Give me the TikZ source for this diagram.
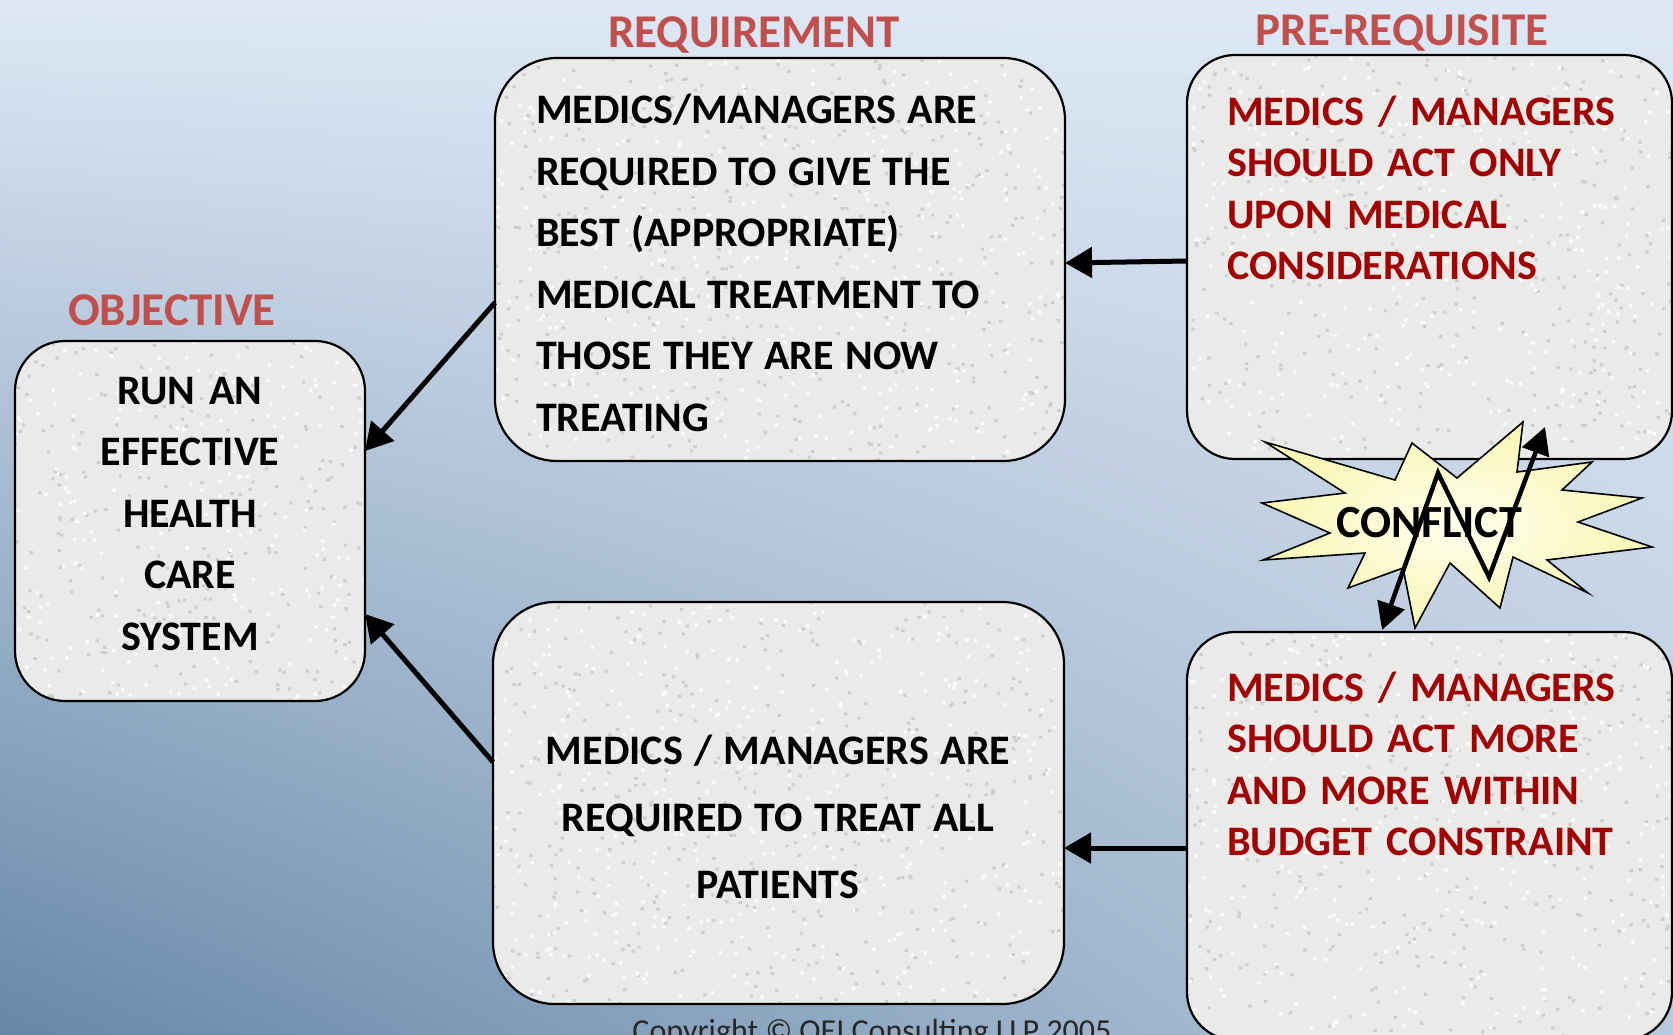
\documentclass[tikz,border=0pt]{standalone}
\usepackage{fontspec}
\setmainfont{Carlito}
\usetikzlibrary{arrows.meta}

\definecolor{titlered}{RGB}{192,80,77}
\definecolor{deepred}{RGB}{160,0,0}
\definecolor{boxfill}{RGB}{234,234,232}
\definecolor{speckdark}{RGB}{206,206,204}
\definecolor{specklight}{RGB}{250,250,249}
\definecolor{starin}{RGB}{255,255,238}
\definecolor{starout}{RGB}{250,246,180}

% Backdrop: bilinear blend, pale at the top, steel blue at the lower left,
% lighter towards the lower right.
\pgfdeclarefunctionalshading{backdrop}{\pgfpoint{0bp}{0bp}}{\pgfpoint{100bp}{100bp}}{}{
  25 sub 50 div 1 exch sub exch 25 sub 50 div exch
  1 index 0.32 mul -0.47 add 1 index mul 0.87 add
  2 index 0.26 mul -0.38 add 2 index mul 0.91 add
  3 index 0.20 mul -0.30 add 3 index mul 0.96 add
  5 -2 roll pop pop
}

\begin{document}
\pgfmathsetseed{4711}
\begin{tikzpicture}[x=1pt,y=-1pt,
  box/.style={draw=black, line width=2.2pt, fill=boxfill, inner sep=0pt, outer sep=0pt},
  % speckled stone texture: #1 batches of flecks spread over +-#2 by +-#3
  granite/.style n args={3}{path picture={
    \begin{scope}[shift={(path picture bounding box.center)}, sharp corners]
      \foreach \b in {1,...,#1}{
        \fill[speckdark, sharp corners] foreach \k in {1,...,30} {(rand*#2,rand*#3) rectangle ++(3.4,3)};
        \fill[specklight, sharp corners] foreach \k in {1,...,30} {(rand*#2,rand*#3) rectangle ++(3.6,3.4)};
      }
    \end{scope}}},
  link/.style={line width=5pt, -{Triangle[length=27pt,width=30pt]}},
  zig/.style={line width=4.5pt, {Triangle[length=27pt,width=28pt]}-{Triangle[length=27pt,width=28pt]}},
  title/.style={font=\bfseries\fontsize{47pt}{56pt}\selectfont, text=titlered, anchor=base, inner sep=0pt},
  body/.style={font=\bfseries\fontsize{42pt}{61.5pt}\selectfont, inner sep=0pt},
  redbody/.style={font=\bfseries\fontsize{42pt}{51.5pt}\selectfont, text=deepred, inner sep=0pt}
]
\useasboundingbox (0,0) rectangle (1673,1034);
\shade[shading=backdrop] (0,0) rectangle (1673,1034);

% boxes
\node[box, rounded corners=50pt, minimum width=350pt, minimum height=360pt,
      granite={8}{178}{183}] (obj) at (190,521) {};
\node[box, rounded corners=62pt, minimum width=570pt, minimum height=403pt,
      granite={14}{288}{204}] (req) at (780,259.5) {};
\node[box, rounded corners=62pt, minimum width=571pt, minimum height=402pt,
      granite={14}{288}{204}] (breq) at (778.5,803) {};
\node[box, rounded corners=48pt, minimum width=485pt, minimum height=404pt,
      granite={11}{245}{205}] (pre1) at (1429.5,257) {};
\node[box, rounded corners=48pt, minimum width=485pt, minimum height=408pt,
      granite={11}{245}{207}] (pre2) at (1429.5,836) {};

% headings
\node[title] (tobj) at (172,325) {OBJECTIVE};
\node[title] (treq) at (754,47) {REQUIREMENT};
\node[title] (tpre) at (1402,45) {PRE-REQUISITE};

% box texts
\node[body, anchor=base, text width=340pt, align=center] (objtxt) at (190,404)
  {RUN AN\\EFFECTIVE\\HEALTH\\CARE\\SYSTEM};
\node[body, anchor=base west, text width=520pt, align=left] (reqtxt) at (536,123.5)
  {\spaceskip=11.3pt\relax MEDICS/MANAGERS ARE\\REQUIRED TO GIVE THE\\BEST (APPROPRIATE)\\MEDICAL TREATMENT TO\\THOSE THEY ARE NOW\\TREATING};
\node[body, font=\bfseries\fontsize{42pt}{67pt}\selectfont,
      anchor=base, text width=560pt, align=center] (breqtxt) at (778,764.5)
  {\spaceskip=11.5pt\relax MEDICS / MANAGERS ARE\\REQUIRED TO TREAT ALL\\PATIENTS};
\node[redbody, anchor=base west, text width=440pt, align=left] (pre1txt) at (1227,125)
  {MEDICS / MANAGERS\\SHOULD ACT ONLY\\UPON MEDICAL\\CONSIDERATIONS};
\node[redbody, anchor=base west, text width=440pt, align=left] (pre2txt) at (1227,701)
  {MEDICS / MANAGERS\\SHOULD ACT MORE\\AND MORE WITHIN\\BUDGET CONSTRAINT};

% connectors
\draw[link] ([yshift=-43pt]req.west) -- ([yshift=70pt]obj.east);
\draw[link] ([yshift=41pt]breq.west) -- ([yshift=-93pt]obj.east);
\draw[link] ([yshift=-4pt]pre1.west) -- ([yshift=-3.5pt]req.east);
\draw[link] ([yshift=-12pt]pre2.west) -- ([yshift=-45pt]breq.east);

% conflict burst
\shadedraw[inner color=starin, outer color=starout, draw=black, line width=1.6pt, line join=miter]
  (1265,442) -- (1395,480) -- (1412,443) -- (1457,478) -- (1523,422) -- (1517,472)
  -- (1592,462) -- (1562,490) -- (1642,498) -- (1578,522) -- (1652,547) -- (1547,560)
  -- (1588,593) -- (1513,557) -- (1500,608) -- (1450,563) -- (1415,628) -- (1403,568)
  -- (1348,588) -- (1365,553) -- (1263,560) -- (1330,533) -- (1262,503) -- (1345,493) -- cycle;
\node[font=\bfseries\fontsize{46pt}{55pt}\selectfont, anchor=base, inner sep=0pt] (conflict) at (1429,537) {CONFLICT};

\coordinate (zzA) at (1438,473);
\coordinate (zzB) at (1489,577);
\draw[zig, line join=miter] ([xshift=-47.5pt,yshift=2pt]pre2.north) -- (zzA) -- (zzB)
  -- ([xshift=115.5pt,yshift=32pt]pre1.south);

% footer
\node[font=\fontsize{32pt}{38pt}\selectfont, text=black!85, anchor=base, inner sep=0pt] (copy) at (872,1041)
  {Copyright © OEI Consulting LLP 2005};
\end{tikzpicture}
\end{document}
